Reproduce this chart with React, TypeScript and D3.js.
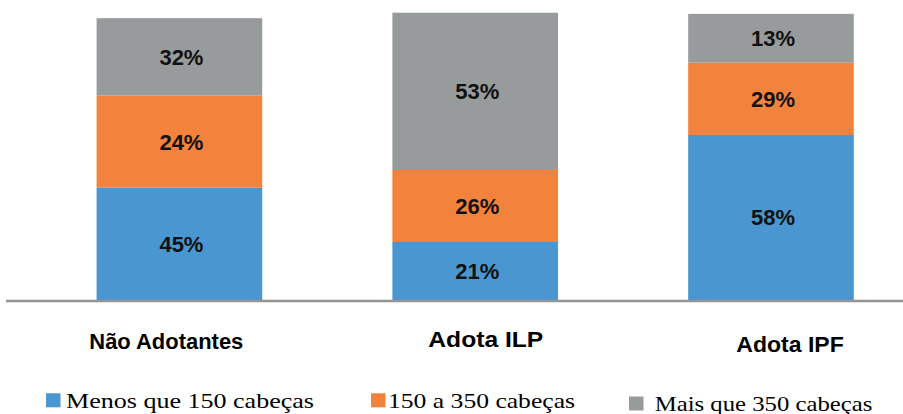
import React from "react";
import * as d3 from "d3";

const categories = ["Não Adotantes", "Adota ILP", "Adota IPF"];
const seriesNames = ["Menos que 150 cabeças", "150 a 350 cabeças", "Mais que 350 cabeças"];
// segment heights as drawn in the picture
const menos150 = [39.1, 20.2, 57.5];
const de150a350 = [32.1, 25.1, 25.2];
const mais350 = [27.0, 54.8, 17.0];
// printed labels
const menos150Labels = ["45%", "21%", "58%"];
const de150a350Labels = ["24%", "26%", "29%"];
const mais350Labels = ["32%", "53%", "13%"];

const colors = ["#4A96D0", "#F3823D", "#989B9C"];

const W = 903;
const H = 414;

export default function App() {
  const x = d3
    .scaleBand<string>()
    .domain(categories)
    .range([96.6, 853.8])
    .paddingInner(0.44)
    .paddingOuter(0);
  const y = d3.scaleLinear().domain([0, 100]).range([300, 13]);

  const rows = categories.map((c, i) => ({
    cat: c,
    s0: menos150[i],
    s1: de150a350[i],
    s2: mais350[i],
  }));
  const stack = d3.stack<any>().keys(["s0", "s1", "s2"]);
  const layers = stack(rows);
  const labels = [menos150Labels, de150a350Labels, mais350Labels];

  // category label placement (text)
  const catLabel = [
    { cx: 166.3, base: 348.7, len: 154 },
    { cx: 485.8, base: 347.3, len: 115 },
    { cx: 790, base: 352.3, len: 107.5 },
  ];
  const legend = [
    { sx: 46, sy: 393.3, tx: 66, base: 407.5, len: 248 },
    { sx: 371, sy: 393.3, tx: 388, base: 407.5, len: 187 },
    { sx: 629, sy: 396.5, tx: 654.7, base: 410.5, len: 217.6 },
  ];

  return (
    <svg
      width={W}
      height={H}
      style={{ position: "absolute", left: 0, top: 0, background: "#fff" }}
    >
      <rect x={0} y={0} width={W} height={H} fill="#fff" />
      {layers.map((layer, li) =>
        layer.map((d, i) => {
          const x0 = x(categories[i])!;
          const yTop = y(d[1]);
          const yBot = y(d[0]);
          return (
            <g key={`${li}-${i}`}>
              <rect
                x={x0}
                y={yTop}
                width={x.bandwidth()}
                height={yBot - yTop}
                fill={colors[li]}
              />
              <text
                x={x0 + x.bandwidth() / 2 + 2}
                y={(yTop + yBot) / 2 + 7.9}
                textAnchor="middle"
                fontFamily="'Liberation Sans', Arial, sans-serif"
                fontWeight="bold"
                fontSize={22}
                fill="#111"
              >
                {labels[li][i]}
              </text>
            </g>
          );
        })
      )}
      <line x1={6} x2={W} y1={301} y2={301} stroke="#959595" strokeWidth={2.5} />
      {categories.map((c, i) => (
        <text
          key={c}
          x={catLabel[i].cx - catLabel[i].len / 2}
          y={catLabel[i].base}
          textLength={catLabel[i].len}
          lengthAdjust="spacingAndGlyphs"
          fontFamily="'Liberation Sans', Arial, sans-serif"
          fontWeight="bold"
          fontSize={22}
          fill="#000"
        >
          {c}
        </text>
      ))}
      {seriesNames.map((s, i) => (
        <g key={s}>
          <rect x={legend[i].sx} y={legend[i].sy} width={14.5} height={14} fill={colors[i]} />
          <text
            x={legend[i].tx}
            y={legend[i].base}
            textLength={legend[i].len}
            lengthAdjust="spacingAndGlyphs"
            fontFamily="'Liberation Serif', 'Times New Roman', serif"
            fontSize={21}
            fill="#000"
          >
            {s}
          </text>
        </g>
      ))}
    </svg>
  );
}
